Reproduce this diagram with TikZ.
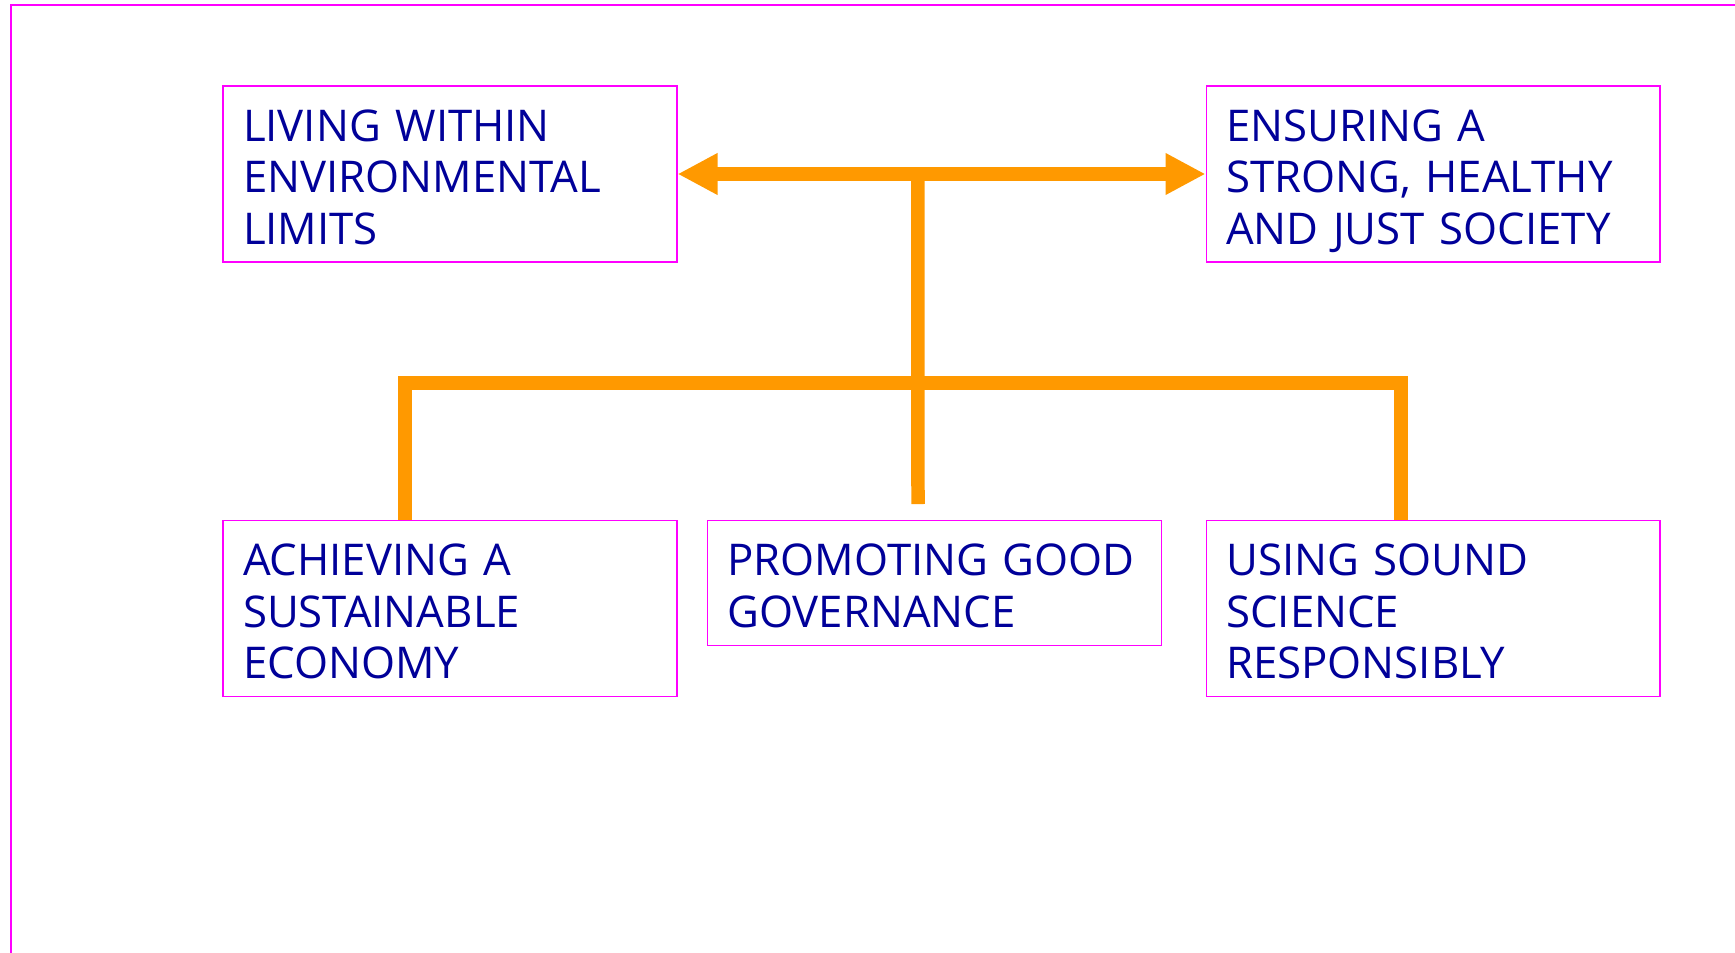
\documentclass[tikz,border=0pt]{standalone}
\usepackage{fontspec}
\setmainfont{Open Sans}
\usepackage{xcolor}
\usetikzlibrary{positioning,calc,arrows.meta}

\definecolor{framepink}{RGB}{255,0,255}
\definecolor{pillarorange}{RGB}{255,153,0}
\definecolor{textnavy}{RGB}{0,0,153}

\tikzset{
  pillar/.style={draw=framepink, line width=0.75pt, rectangle, align=left,
    text width=8.28cm, inner xsep=0.40cm, inner ysep=0pt, minimum width=9.08cm,
    text=textnavy, font=\fontsize{24.9}{29.3}\selectfont,
    execute at begin node={\rule{0pt}{27.5pt}},
    execute at end node={\rule[-6pt]{0pt}{6pt}}},
  tall/.style={minimum height=3.52cm},
  short/.style={minimum height=2.5cm},
  trunk/.style={draw=pillarorange, line width=0.27cm, line join=miter}
}

\begin{document}
\begin{tikzpicture}[x=0.02cm,y=-0.02cm]
  \useasboundingbox (0,0) rectangle (1735,953);
  % outer frame, open at right and bottom
  \draw[framepink, line width=0.85pt] (11,953) -- (11,5) -- (1735,5);

  % the five boxes
  \node[pillar, tall] (limits) at (450,174) {LIVING WITHIN\\ENVIRONMENTAL\\LIMITS};
  \node[pillar, tall, right=10.56cm of limits] (society) {ENSURING A\\STRONG, HEALTHY\\AND JUST SOCIETY};
  \node[pillar, tall, below=5.14cm of limits] (economy) {ACHIEVING A\\SUSTAINABLE\\ECONOMY};
  \node[pillar, short, right=0.58cm of economy.north east, anchor=north west] (governance) {PROMOTING GOOD\\GOVERNANCE};
  \node[pillar, tall, below=5.14cm of society] (science) {USING SOUND\\SCIENCE\\RESPONSIBLY};

  % connectors
  \coordinate (hub) at ($(limits.east)!0.455!(society.west)$);
  \coordinate (stemend) at (918,504);
  \coordinate (barl) at (405,383);
  \coordinate (barr) at (1401,383);

  \draw[trunk, {Triangle[length=0.8cm,width=0.78cm]}-{Triangle[length=0.8cm,width=0.78cm]}]
    (limits.east) -- (society.west);
  \draw[trunk] (hub) -- (stemend);
  \draw[trunk] (barl |- economy.north) -- (barl) -- (barr) -- (barr |- science.north);
\end{tikzpicture}
\end{document}
